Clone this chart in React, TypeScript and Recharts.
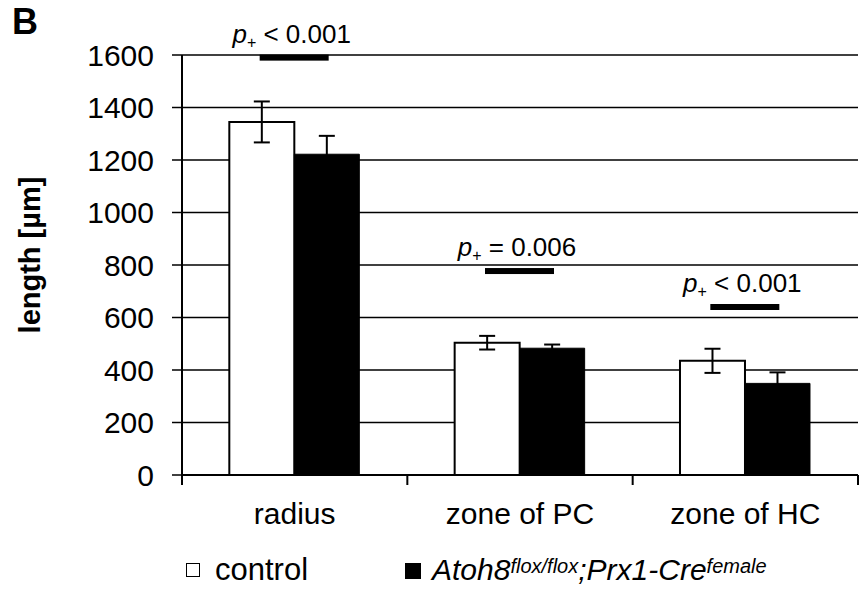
import React from "react"
import { BarChart, Bar, XAxis, YAxis, CartesianGrid, ErrorBar, ReferenceDot, Label } from "recharts"

const categories = ["radius", "zone of PC", "zone of HC"]
const controlValues = [1345, 504, 435]
const controlErrors = [78, 26, 46]
const mutantValues = [1222, 483, 349]
const mutantErrors = [70, 14, 42]
const sigLevels = [1590, 777, 640]
const sigOps = ["<", "=", "<"]
const sigValues = ["0.001", "0.006", "0.001"]
const yTicks = [0, 200, 400, 600, 800, 1000, 1200, 1400, 1600]

const FONT = "'Liberation Sans', Arial, sans-serif"

const data = categories.map((name, i) => ({
  name,
  control: controlValues[i],
  controlErr: controlErrors[i],
  mutant: mutantValues[i],
  mutantErr: mutantErrors[i],
}))

function CategoryTick(props: any) {
  const { x, y, payload, index } = props
  const half = payload?.offset ?? 112.5
  return (
    <g>
      <line x1={x - half} y1={y - 10} x2={x - half} y2={y} stroke="#000" strokeWidth={2} />
      {index === categories.length - 1 && (
        <line x1={x + half} y1={y - 10} x2={x + half} y2={y} stroke="#000" strokeWidth={2} />
      )}
      <text x={x} y={y + 39} textAnchor="middle" fontSize={30} fontFamily={FONT} fill="#000">
        {payload.value}
      </text>
    </g>
  )
}

function sigShape(op: string, val: string) {
  return (props: any) => {
    const { cx, cy } = props
    return (
      <g>
        <rect x={cx - 35} y={cy - 3} width={69} height={6} fill="#000" />
        <text x={cx - 3} y={cy - 15} textAnchor="middle" fontSize={26} fontFamily={FONT} fill="#000">
          <tspan fontStyle="italic">p</tspan>
          <tspan fontSize={16} dy={5}>+</tspan>
          <tspan dy={-5}>{` ${op} ${val}`}</tspan>
        </text>
      </g>
    )
  }
}

export default function App() {
  return (
    <div style={{ position: "absolute", left: 0, top: 0, width: 866, height: 592, background: "#fff", fontFamily: FONT }}>
      <div style={{ position: "absolute", left: 12, top: 2, fontSize: 36, fontWeight: "bold", lineHeight: "40px" }}>B</div>
      <BarChart
        width={866}
        height={592}
        data={data}
        margin={{ top: 55, right: 8, left: 0, bottom: 67 }}
        barGap={0}
        barCategoryGap="21%"
      >
        <CartesianGrid vertical={false} stroke="#000" strokeWidth={1.5} />
        <XAxis
          dataKey="name"
          height={50}
          tickLine={false}
          tickSize={10}
          tickMargin={0}
          axisLine={{ stroke: "#000", strokeWidth: 2 }}
          tick={<CategoryTick />}
          interval={0}
        />
        <YAxis
          width={182}
          domain={[0, 1600]}
          ticks={yTicks}
          interval={0}
          axisLine={{ stroke: "#000", strokeWidth: 2 }}
          tickLine={{ stroke: "#000", strokeWidth: 1.5 }}
          tickSize={10}
          tickMargin={18}
          tick={{ fontSize: 30, fill: "#000", fontFamily: FONT }}
        >
          <Label
            content={(p: any) => {
              const vb = p.viewBox
              const cx = vb.x + 30
              const cy = vb.y + vb.height / 2 - 10
              return (
                <text
                  x={cx}
                  y={cy}
                  transform={`rotate(-90 ${cx} ${cy})`}
                  textAnchor="middle"
                  dominantBaseline="central"
                  fontSize={29}
                  fontWeight="bold"
                  fontFamily={FONT}
                  fill="#000"
                >
                  length [µm]
                </text>
              )
            }}
          />
        </YAxis>
        <Bar dataKey="control" fill="#fff" stroke="#000" strokeWidth={2} isAnimationActive={false}>
          <ErrorBar dataKey="controlErr" width={8} stroke="#000" strokeWidth={2} />
        </Bar>
        <Bar dataKey="mutant" fill="#000" stroke="#000" strokeWidth={1} isAnimationActive={false}>
          <ErrorBar dataKey="mutantErr" width={8} stroke="#000" strokeWidth={2} />
        </Bar>
        {categories.map((c, i) => (
          <ReferenceDot
            key={c}
            x={c}
            y={sigLevels[i]}
            ifOverflow="visible"
            shape={sigShape(sigOps[i], sigValues[i])}
          />
        ))}
      </BarChart>
      <div style={{ position: "absolute", left: 186, top: 563, width: 12, height: 12, border: "1.5px solid #000", background: "#fff" }} />
      <div style={{ position: "absolute", left: 215, top: 552, fontSize: 31, lineHeight: "36px" }}>control</div>
      <div style={{ position: "absolute", left: 405, top: 563, width: 16, height: 16, background: "#000" }} />
      <div style={{ position: "absolute", left: 432, top: 552, fontSize: 30, lineHeight: "36px", fontStyle: "italic", whiteSpace: "nowrap" }}>
        Atoh8<sup style={{ fontSize: 20, verticalAlign: "top", position: "relative", top: -4 }}>flox/flox</sup>;Prx1-Cre
        <sup style={{ fontSize: 20, verticalAlign: "top", position: "relative", top: -4 }}>female</sup>
      </div>
    </div>
  )
}
